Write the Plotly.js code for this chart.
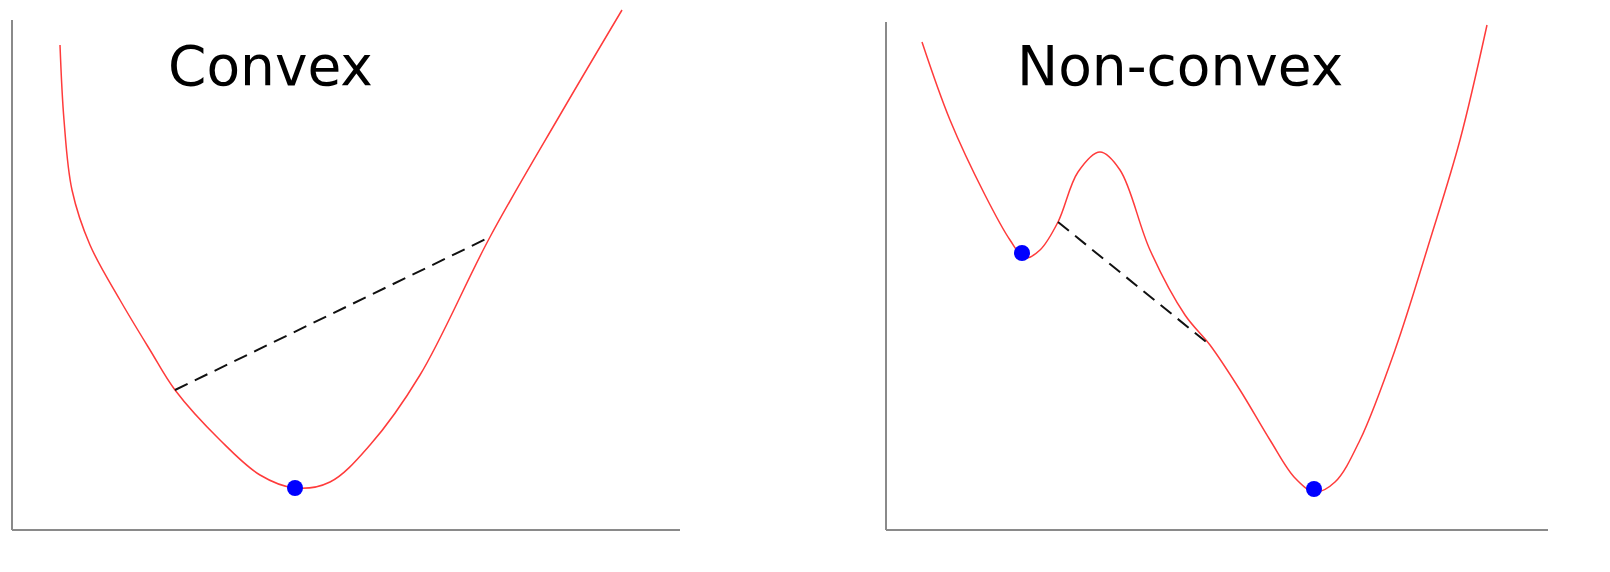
<!DOCTYPE html>
<html>
<head>
<meta charset="utf-8">
<script src="https://cdn.plot.ly/plotly-3.0.1.min.js"></script>
<style>html,body{margin:0;padding:0;background:#fff}#chart{width:1610px;height:572px}</style>
</head>
<body>
<div id="chart"></div>
<script>
// values (page pixel units, y grows downward)
const convexX = [60, 64, 72, 90, 120, 150, 175, 220, 260, 295, 330, 370, 420, 490, 560, 622];
const convexY = [45, 120, 190, 245, 300, 350, 390, 440, 475, 488, 482, 445, 375, 237, 115, 10];
const convexChordX = [175, 490];
const convexChordY = [390, 237];
const convexMinX = [295];
const convexMinY = [488];

const nonX = [922, 950, 985, 1010, 1025, 1040, 1058, 1078, 1100, 1120, 1150, 1185, 1210, 1240, 1270, 1295, 1315, 1335, 1360, 1395, 1430, 1460, 1487];
const nonY = [42, 120, 195, 240, 258, 250, 222, 172, 152, 170, 250, 315, 345, 390, 440, 478, 492, 482, 440, 350, 240, 140, 25];
const nonChordX = [1058, 1210];
const nonChordY = [222, 345];
const nonMinX = [1022, 1314];
const nonMinY = [253, 489];

const titles = ['Convex', 'Non-convex'];
const titleX = [270, 1180];

const red = {color: '#ff3b3b', width: 1.5, shape: 'spline', smoothing: 1};
const dash = {color: '#111', width: 2, dash: '14px,8px'};
const dot = {color: '#0000ff', size: 16};

const data = [
  {x: convexX, y: convexY, mode: 'lines', line: red},
  {x: convexChordX, y: convexChordY, mode: 'lines', line: dash},
  {x: convexMinX, y: convexMinY, mode: 'markers', marker: dot},
  {x: nonX, y: nonY, mode: 'lines', line: red},
  {x: nonChordX, y: nonChordY, mode: 'lines', line: dash},
  {x: nonMinX, y: nonMinY, mode: 'markers', marker: dot},
];

const axisLine = {color: '#8a8a8a', width: 2};
const shapes = [
  {type: 'line', x0: 12, x1: 12, y0: 20, y1: 530, line: axisLine},
  {type: 'line', x0: 12, x1: 680, y0: 530, y1: 530, line: axisLine},
  {type: 'line', x0: 886, x1: 886, y0: 22, y1: 530, line: axisLine},
  {type: 'line', x0: 886, x1: 1548, y0: 530, y1: 530, line: axisLine},
];

const annotations = titles.map((t, i) => ({
  text: t, x: titleX[i], y: 66, xref: 'x', yref: 'y', showarrow: false,
  font: {family: 'DejaVu Sans', size: 55, color: '#000'}
}));

const layout = {
  width: 1610, height: 572,
  margin: {l: 0, r: 0, t: 0, b: 0},
  paper_bgcolor: '#fff', plot_bgcolor: '#fff',
  showlegend: false,
  xaxis: {range: [0, 1610], visible: false, fixedrange: true},
  yaxis: {range: [572, 0], visible: false, fixedrange: true},
  shapes: shapes,
  annotations: annotations,
};

Plotly.newPlot('chart', data, layout, {staticPlot: true});
</script>
</body>
</html>
